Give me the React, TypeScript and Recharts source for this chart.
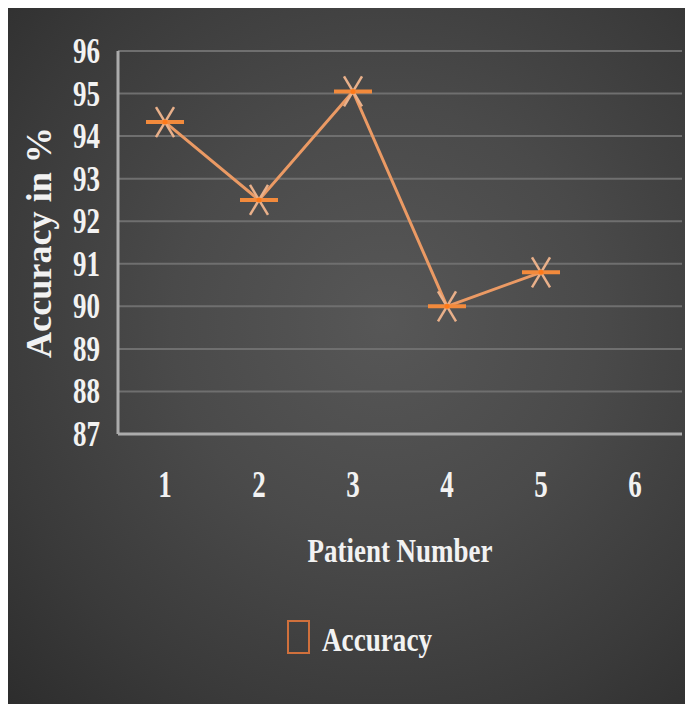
import React from 'react';
import { LineChart, Line, XAxis, YAxis, CartesianGrid, Legend } from 'recharts';

const patients = ['1', '2', '3', '4', '5', '6'];
const accuracy: (number | null)[] = [94.33, 92.5, 95.05, 90.0, 90.8, null];
const yTicks = [87, 88, 89, 90, 91, 92, 93, 94, 95, 96];
const seriesName = 'Accuracy';

const data = patients.map((p, i) => ({ patient: p, accuracy: accuracy[i] }));

const FONT = '"Liberation Serif", "Times New Roman", serif';
const TXT = '#f2f2f2';

const YTick = (props: any) => {
  const { x, y, payload } = props;
  const s = String(payload.value);
  return (
    <text x={x - 10} y={y + 12} textAnchor="end" fill={TXT} fontFamily={FONT} fontWeight="bold" fontSize={36}
      textLength={s.length * 13.5} lengthAdjust="spacingAndGlyphs">{s}</text>
  );
};

const XTick = (props: any) => {
  const { x, y, payload } = props;
  const s = String(payload.value);
  return (
    <text x={x} y={y + 55} textAnchor="middle" fill={TXT} fontFamily={FONT} fontWeight="bold" fontSize={38}
      textLength={s.length * 13.5} lengthAdjust="spacingAndGlyphs">{s}</text>
  );
};

const YLabel = (props: any) => {
  const vb = props.viewBox || { x: 0, y: 43, width: 110, height: 383 };
  const cx = 43;
  const cy = vb.y + vb.height / 2;
  return (
    <text x={cx} y={cy} transform={`rotate(-90 ${cx} ${cy})`} textAnchor="middle" fill={TXT} fontFamily={FONT}
      fontWeight="bold" fontSize={35} textLength={231} lengthAdjust="spacingAndGlyphs">Accuracy in %</text>
  );
};

const XLabel = (props: any) => {
  const vb = props.viewBox || { x: 110, y: 426, width: 564, height: 140 };
  const cx = vb.x + vb.width / 2;
  return (
    <text x={cx} y={vb.y + 128} textAnchor="middle" fill={TXT} fontFamily={FONT} fontWeight="bold" fontSize={33}
      textLength={185} lengthAdjust="spacingAndGlyphs">Patient Number</text>
  );
};

const StarDot = (props: any) => {
  const { cx, cy, value } = props;
  if (value == null || cx == null || cy == null || isNaN(cy)) return null;
  return (
    <g>
      <line x1={cx - 9} y1={cy - 15} x2={cx + 9} y2={cy + 15} stroke="#e9b08a" strokeWidth={2.5} />
      <line x1={cx + 9} y1={cy - 15} x2={cx - 9} y2={cy + 15} stroke="#e9b08a" strokeWidth={2.5} />
      <line x1={cx - 19} y1={cy} x2={cx + 19} y2={cy} stroke="#f28a3c" strokeWidth={4} />
      <circle cx={cx} cy={cy} r={2.5} fill="#ff7a1a" />
    </g>
  );
};

const LegendContent = () => (
  <svg width={685} height={50} style={{ display: 'block' }}>
    <rect x={280} y={8} width={21} height={32} fill="none" stroke="#d0703c" strokeWidth={2} />
    <text x={314} y={38} fill={TXT} fontFamily={FONT} fontWeight="bold" fontSize={34}
      textLength={110} lengthAdjust="spacingAndGlyphs">{seriesName}</text>
  </svg>
);

export default function App() {
  return (
    <div style={{
      width: 685, height: 696,
      background: 'radial-gradient(ellipse at 55% 45%, #575757 0%, #4a4a4a 40%, #3a3a3a 75%, #2d2d2d 100%)',
    }}>
      <LineChart width={685} height={696} data={data} margin={{ top: 43, right: 11, bottom: 130, left: 0 }}>
        <CartesianGrid vertical={false} stroke="#6f6f6f" strokeWidth={2} />
        <XAxis dataKey="patient" type="category" scale="band" height={140} tickLine={false}
          axisLine={{ stroke: '#ababab', strokeWidth: 3 }} tick={<XTick />} interval={0}
          label={<XLabel />} />
        <YAxis type="number" domain={[87, 96]} ticks={yTicks} width={110} tickLine={false}
          axisLine={{ stroke: '#ababab', strokeWidth: 3 }} tick={<YTick />} interval={0}
          label={<YLabel />} />
        <Legend verticalAlign="middle" align="center" content={<LegendContent />}
          wrapperStyle={{ position: 'absolute', top: 605, left: 0, width: 685, height: 50 }} />
        <Line type="linear" dataKey="accuracy" name={seriesName} stroke="#eb9a64" strokeWidth={3}
          dot={<StarDot />} activeDot={false} isAnimationActive={false} connectNulls={false} />
      </LineChart>
    </div>
  );
}
